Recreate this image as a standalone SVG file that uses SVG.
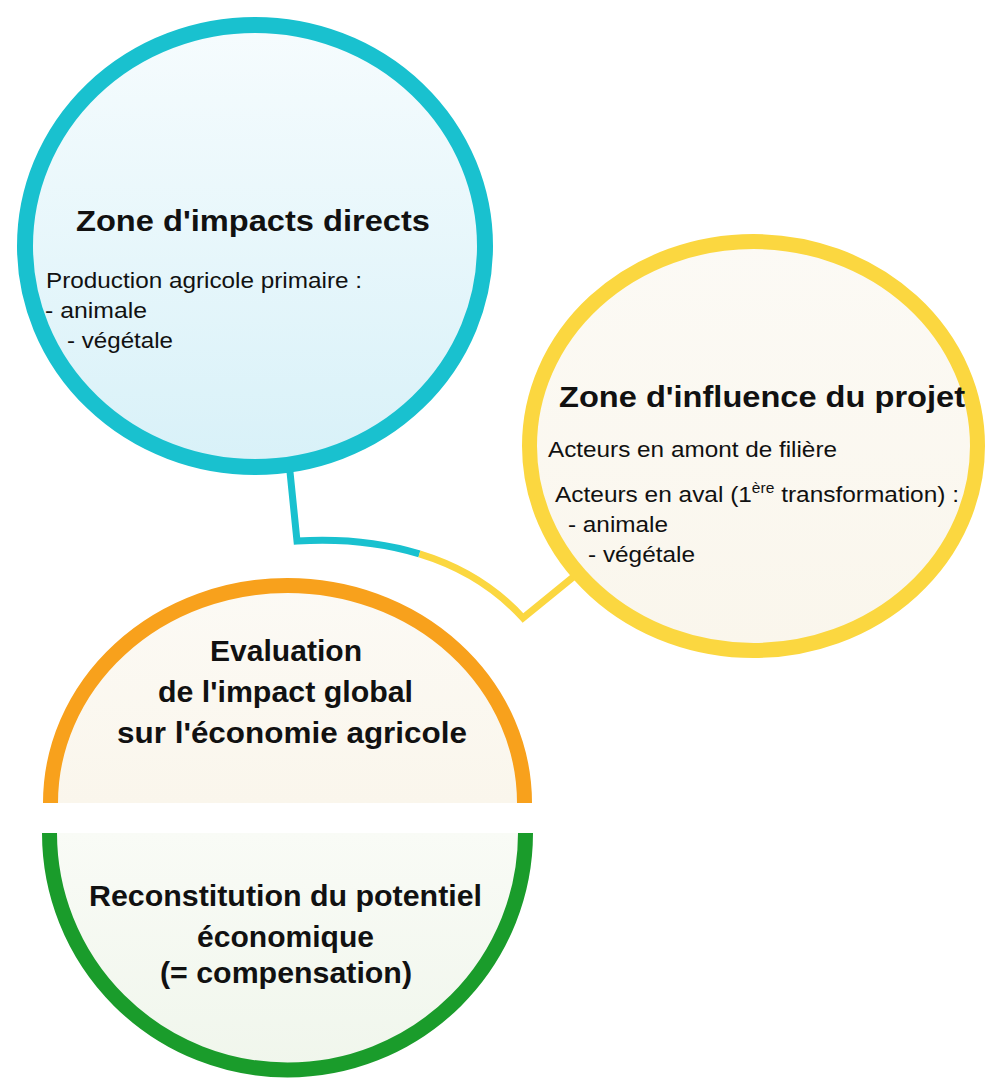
<svg xmlns="http://www.w3.org/2000/svg" width="992" height="1081" viewBox="0 0 992 1081">
  <defs>
    <linearGradient id="gradCyan" x1="0" y1="0" x2="0" y2="1">
      <stop offset="0" stop-color="#f6fcfe"/>
      <stop offset="1" stop-color="#d8f1f8"/>
    </linearGradient>
    <linearGradient id="gradCream" x1="0" y1="0" x2="0" y2="1">
      <stop offset="0" stop-color="#fcfaf5"/>
      <stop offset="1" stop-color="#faf6ec"/>
    </linearGradient>
    <linearGradient id="gradGreen" x1="0" y1="0" x2="0" y2="1">
      <stop offset="0" stop-color="#f9fbf6"/>
      <stop offset="1" stop-color="#f0f6ec"/>
    </linearGradient>
  </defs>
  <style>
    text { font-family: "Liberation Sans", Arial, sans-serif; fill: #111111; }
    .title { font-size: 30px; font-weight: bold; }
    .label { font-size: 29px; font-weight: bold; }
    .body { font-size: 22px; }
    .center { text-anchor: middle; }
    .link { fill: none; stroke-width: 7; stroke-linejoin: miter; stroke-linecap: butt; }
  </style>
  <rect width="992" height="1081" fill="#ffffff"/>

  <!-- connectors, drawn under the nodes -->
  <g id="connectors">
    <path class="link" stroke="#19c1cf" d="M289,462 L297,541 C338.5,538.5 380.5,542 419.4,553.9"/>
    <path class="link" stroke="#fbd740" d="M419.4,553.9 C458.25,565.75 494,586 523,618 L588,565"/>
  </g>

  <!-- direct impact zone -->
  <g id="zone-impacts-directs">
    <ellipse cx="255" cy="246" rx="230" ry="221" fill="url(#gradCyan)" stroke="#19c1cf" stroke-width="16"/>
    <text class="title" x="76" y="231" textLength="354" lengthAdjust="spacingAndGlyphs">Zone d'impacts directs</text>
    <text class="body" x="46" y="288" textLength="316" lengthAdjust="spacingAndGlyphs">Production agricole primaire :</text>
    <text class="body" x="45" y="318" textLength="102" lengthAdjust="spacingAndGlyphs">- animale</text>
    <text class="body" x="67" y="348" textLength="106" lengthAdjust="spacingAndGlyphs">- végétale</text>
  </g>

  <!-- project influence zone -->
  <g id="zone-influence-projet">
    <ellipse cx="753.5" cy="446" rx="224" ry="204.5" fill="url(#gradCream)" stroke="#fbd740" stroke-width="15"/>
    <text class="title" x="559" y="407" textLength="406" lengthAdjust="spacingAndGlyphs">Zone d'influence du projet</text>
    <text class="body" x="548" y="457" textLength="289" lengthAdjust="spacingAndGlyphs">Acteurs en amont de filière</text>
    <text class="body" x="555" y="502" textLength="404" lengthAdjust="spacingAndGlyphs">Acteurs en aval (1<tspan font-size="14" dy="-9">ère</tspan><tspan dy="9"> transformation) :</tspan></text>
    <text class="body" x="568" y="532" textLength="100" lengthAdjust="spacingAndGlyphs">- animale</text>
    <text class="body" x="588" y="562" textLength="107" lengthAdjust="spacingAndGlyphs">- végétale</text>
  </g>

  <!-- global impact assessment (upper half) -->
  <g id="evaluation-impact-global">
    <path d="M50.5,803 A237,217.5 0 0 1 524.5,803" fill="url(#gradCream)" stroke="#f8a11c" stroke-width="15"/>
    <text class="label center" x="286" y="661" textLength="152" lengthAdjust="spacingAndGlyphs">Evaluation</text>
    <text class="label center" x="285.5" y="702" textLength="255" lengthAdjust="spacingAndGlyphs">de l'impact global</text>
    <text class="label center" x="292" y="743" textLength="350" lengthAdjust="spacingAndGlyphs">sur l'économie agricole</text>
  </g>

  <!-- economic potential rebuilding (lower half) -->
  <g id="reconstitution-potentiel">
    <path d="M49.5,833 A238,237 0 0 0 525.5,833" fill="url(#gradGreen)" stroke="#1a9c2b" stroke-width="15"/>
    <text class="label center" x="285.5" y="906" textLength="393" lengthAdjust="spacingAndGlyphs">Reconstitution du potentiel</text>
    <text class="label center" x="285.5" y="947" textLength="177" lengthAdjust="spacingAndGlyphs">économique</text>
    <text class="label center" x="286" y="983" textLength="252" lengthAdjust="spacingAndGlyphs">(= compensation)</text>
  </g>
</svg>
